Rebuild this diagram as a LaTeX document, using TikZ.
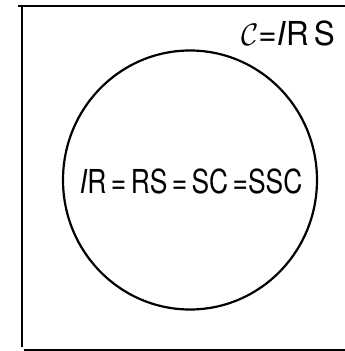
\documentclass[tikz,border=0pt]{standalone}
\usepackage{fontspec}
\setsansfont{TeX Gyre Heros}
\usetikzlibrary{shapes.geometric}
\begin{document}
\begin{tikzpicture}[x=1pt,y=1pt,
  frame/.style={line width=2.2pt, black},
  venn/.style={line width=2.2pt, black},
  lbl/.style={font=\fontsize{33}{33}\selectfont\sffamily, inner sep=0pt}]
\useasboundingbox (0,0) rectangle (345,351);
\coordinate (tl0) at (18,345);
\coordinate (tr) at (345,345);
\coordinate (lt) at (22,345);
\coordinate (lb) at (22,4);
\coordinate (bl) at (24,1);
\coordinate (br) at (345,1);
\draw[frame] (tl0) -- (tr);
\draw[line width=1.8pt] (lt) -- (lb);
\draw[frame] (bl) -- (br);
\node[venn, draw, ellipse, minimum width=254pt, minimum height=259pt, inner sep=0pt] (c) at (190,171) {};
\node[lbl] (eq) at (191,170) {\scalebox{0.8}[1]{\textit{I}R\,=\,RS\,=\,SC\,=SSC}};
\node[lbl] (u) at (288,318) {\scalebox{0.95}[1]{\scalebox{1.25}{$\mathcal{C}$}=\textit{I}R\,S}};
\end{tikzpicture}
\end{document}
